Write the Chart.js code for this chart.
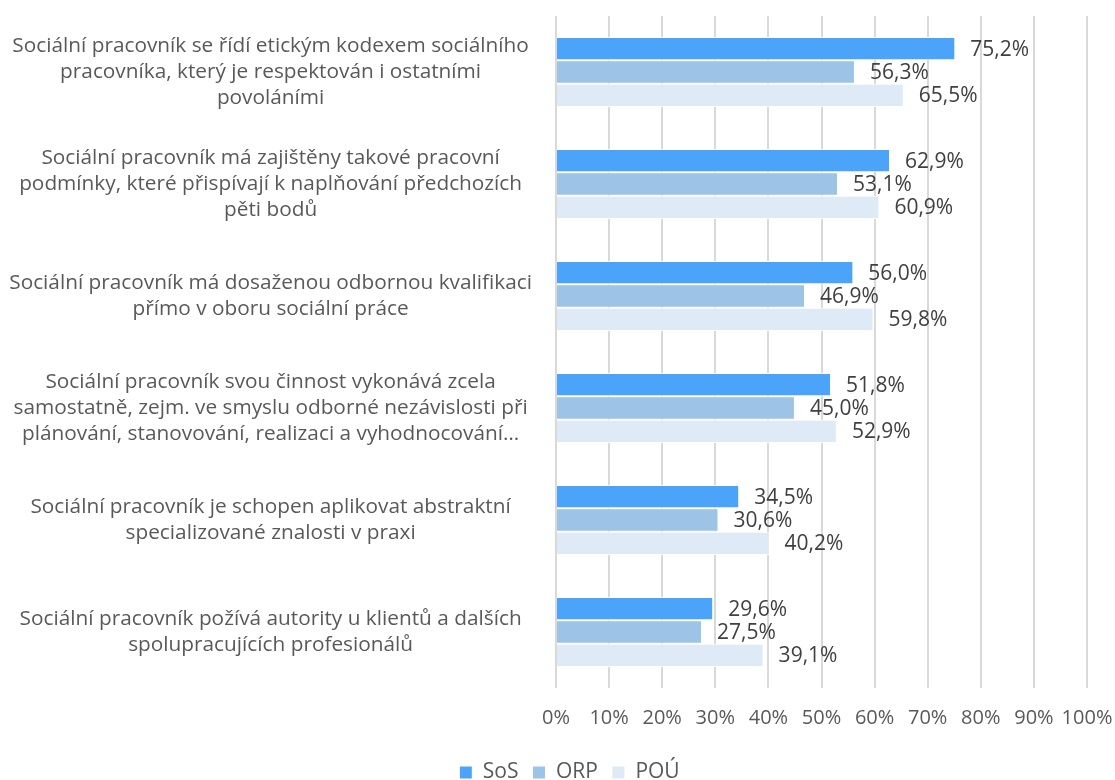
<!DOCTYPE html>
<html lang="cs">
<head>
<meta charset="utf-8">
<title>Sociální pracovník</title>
<script src="https://cdn.jsdelivr.net/npm/chart.js@4.4.0/dist/chart.umd.min.js"></script>
<style>
  html, body { margin: 0; padding: 0; background: #fff; }
  #wrap { width: 1115px; height: 780px; }
</style>
</head>
<body>
<div id="wrap"><canvas id="graf" width="1115" height="780"></canvas></div>
<script>
const kategorie = [
  ["Sociální pracovník se řídí etickým kodexem sociálního", "pracovníka, který je respektován i ostatními", "povoláními"],
  ["Sociální pracovník má zajištěny takové pracovní", "podmínky, které přispívají k naplňování předchozích", "pěti bodů"],
  ["Sociální pracovník má dosaženou odbornou kvalifikaci", "přímo v oboru sociální práce"],
  ["Sociální pracovník svou činnost vykonává zcela", "samostatně, zejm. ve smyslu odborné nezávislosti při", "plánování, stanovování, realizaci a vyhodnocování…"],
  ["Sociální pracovník je schopen aplikovat abstraktní", "specializované znalosti v praxi"],
  ["Sociální pracovník požívá autority u klientů a dalších", "spolupracujících profesionálů"]
];
const sos = [75.2, 62.9, 56.0, 51.8, 34.5, 29.6];
const orp = [56.3, 53.1, 46.9, 45.0, 30.6, 27.5];
const pou = [65.5, 60.9, 59.8, 52.9, 40.2, 39.1];
const osaX = [0, 10, 20, 30, 40, 50, 60, 70, 80, 90, 100];

const pismo = '"Open Sans", "Segoe UI", sans-serif';

// hodnoty vypsané za koncem každého pruhu
const popiskyHodnot = {
  id: 'popiskyHodnot',
  afterDatasetsDraw(chart) {
    const ctx = chart.ctx;
    ctx.save();
    ctx.font = '21px ' + pismo;
    ctx.fillStyle = '#404040';
    ctx.textAlign = 'left';
    ctx.textBaseline = 'middle';
    chart.data.datasets.forEach((ds, i) => {
      chart.getDatasetMeta(i).data.forEach((bar, j) => {
        let text = ds.data[j].toFixed(1).replace('.', ',') + '%';
        ctx.fillText(text, bar.x + 15, bar.y + 1);
      });
    });
    ctx.restore();
  }
};

// legenda trochu vpravo od středu plátna
const posunLegendy = {
  id: 'posunLegendy',
  afterLayout(chart) {
    if (chart.legend) {
      chart.legend.left += 26;
      chart.legend.right += 26;
    }
  }
};

new Chart(document.getElementById('graf'), {
  type: 'bar',
  data: {
    labels: kategorie,
    datasets: [
      { label: 'SoS', data: sos, backgroundColor: '#4BA3FA' },
      { label: 'ORP', data: orp, backgroundColor: '#9DC3E6' },
      { label: 'POÚ', data: pou, backgroundColor: '#DEEBF7' }
    ]
  },
  options: {
    indexAxis: 'y',
    responsive: false,
    animation: false,
    layout: { padding: { top: 16, right: 28, left: 0, bottom: 0 } },
    datasets: {
      bar: {
        categoryPercentage: 0.625,
        barPercentage: 1,
        borderColor: '#ffffff',
        borderWidth: 1
      }
    },
    scales: {
      x: {
        min: 0,
        max: 100,
        afterBuildTicks(scale) {
          scale.ticks = osaX.map(v => ({ value: v }));
        },
        afterFit(scale) {
          scale.height = 60;
          scale.paddingLeft = 0;
          scale.paddingRight = 0;
        },
        grid: { color: '#d9d9d9', lineWidth: 2, drawTicks: false },
        border: { display: false },
        ticks: {
          padding: 18,
          autoSkip: false,
          maxRotation: 0,
          minRotation: 0,
          color: '#595959',
          font: { family: pismo, size: 20 },
          callback: v => v + '%'
        }
      },
      y: {
        afterFit(scale) {
          scale.width = 556;
          scale.paddingTop = 0;
          scale.paddingBottom = 0;
        },
        grid: { display: false },
        border: { display: false },
        ticks: {
          crossAlign: 'center',
          padding: 16,
          color: '#595959',
          font: { family: pismo, size: 20.8, lineHeight: 1.25 }
        }
      }
    },
    plugins: {
      tooltip: { enabled: false },
      legend: {
        position: 'bottom',
        maxHeight: 32,
        labels: {
          boxWidth: 13,
          boxHeight: 13,
          padding: 14,
          color: '#595959',
          font: { family: pismo, size: 21 }
        }
      }
    }
  },
  plugins: [popiskyHodnot, posunLegendy]
});
</script>
</body>
</html>
